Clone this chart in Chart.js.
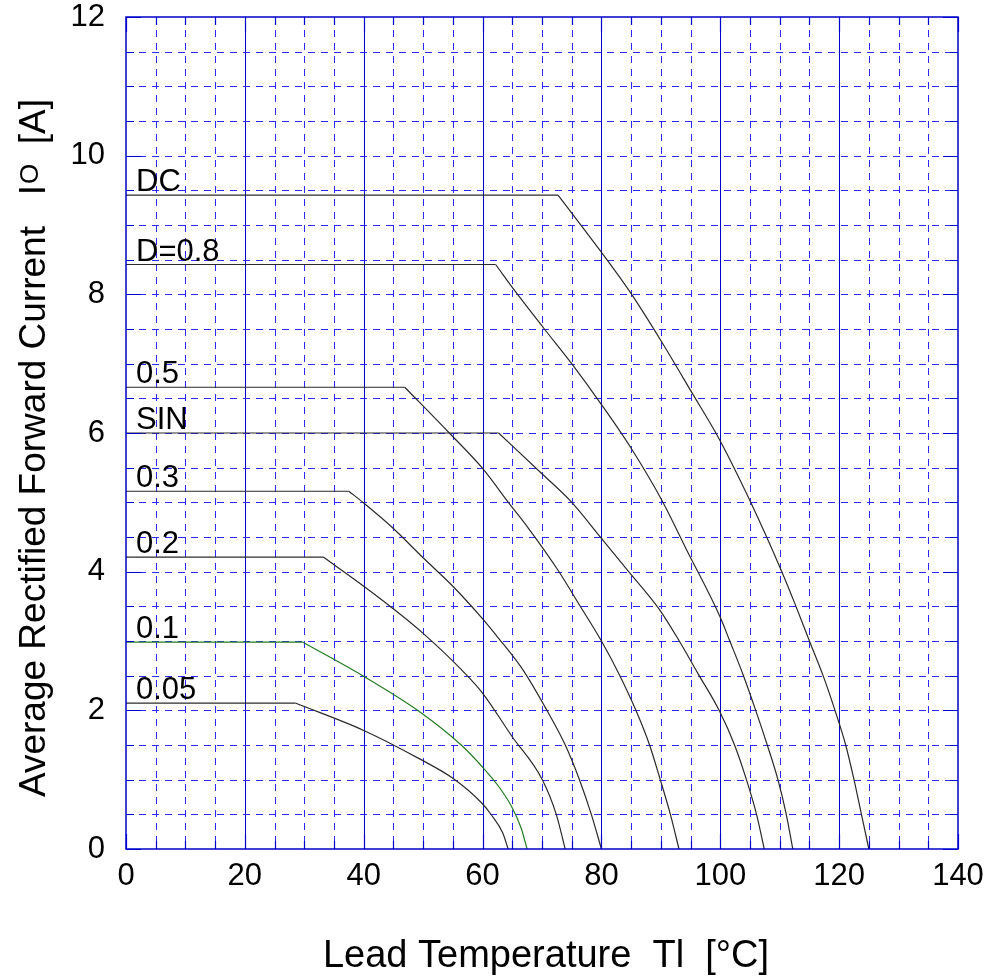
<!DOCTYPE html>
<html>
<head>
<meta charset="utf-8">
<script src="https://cdn.jsdelivr.net/npm/chart.js@4.4.1/dist/chart.umd.min.js"></script>
<style>
  body { margin: 0; background: #fff; }
  #wrap { width: 994px; height: 980px; }
</style>
</head>
<body>
<div id="wrap"><canvas id="myChart" width="994" height="980"></canvas></div>
<script>
// derating curves: [lead temperature °C, average rectified forward current A]
// first two points = flat part, the rest = falling part
var curveNames = ["DC", "D=0.8", "0.5", "SIN", "0.3", "0.2", "0.1", "0.05"];
var curveDC = [[0, 9.43], [72.7, 9.43], [79.7, 8.64], [85, 8.01], [90.1, 7.32], [95.1, 6.6], [99.9, 5.9], [104.9, 5.04], [110.3, 4.01], [112.5, 3.55], [115, 3.0], [117.3, 2.5], [119.3, 2.0], [121.1, 1.5], [122.5, 1.0], [123.75, 0.5], [125, 0]];
var curveD08 = [[0, 8.43], [62.2, 8.43], [65.7, 8.02], [70.4, 7.5], [74.9, 7.01], [80, 6.41], [85, 5.78], [90.1, 5.04], [94.3, 4.32], [99.9, 3.36], [101.6, 3.0], [103.9, 2.5], [105.96, 2.0], [107.9, 1.5], [109.7, 1.0], [111.1, 0.5], [112.2, 0]];
var curveD05 = [[0, 6.66], [46.9, 6.66], [54.4, 6.0], [59.9, 5.5], [64.6, 4.97], [67.6, 4.64], [72.7, 4.02], [76.3, 3.52], [80, 3.0], [83.1, 2.5], [85.8, 2.0], [88.1, 1.5], [89.9, 1.0], [91.6, 0.5], [93.05, 0]];
var curveSIN = [[0, 6.0], [62.7, 6.0], [69.9, 5.42], [74.9, 5.01], [80, 4.48], [84.2, 4.04], [89.8, 3.45], [93.1, 3.0], [96.25, 2.53], [99.8, 2.0], [102.4, 1.5], [104.4, 1.0], [106.1, 0.5], [107.4, 0]];
var curveD03 = [[0, 5.16], [37.5, 5.16], [40, 4.99], [44.9, 4.63], [50, 4.2], [55, 3.79], [59.9, 3.33], [62.6, 3.05], [66.9, 2.57], [70.5, 2.05], [73.8, 1.52], [76.3, 1.0], [78.3, 0.5], [80, 0]];
var curveD02 = [[0, 4.21], [33.2, 4.21], [40, 3.79], [44.9, 3.47], [50, 3.11], [56.4, 2.59], [59.9, 2.26], [64.9, 1.63], [70.05, 1.0], [72.4, 0.5], [73.9, 0]];
var curveD01 = [[0, 2.985], [29.7, 2.985], [40, 2.49], [49.4, 1.98], [56.4, 1.5], [59.9, 1.19], [62.9, 0.88], [64.9, 0.61], [66.5, 0.3], [67.5, 0]];
var curveD005 = [[0, 2.105], [28.5, 2.105], [40, 1.71], [49.4, 1.3], [55, 1.02], [59.9, 0.66], [61.5, 0.49], [63.4, 0.23], [64.3, 0]];
var curveColors = ["#2a2a2a", "#2a2a2a", "#2a2a2a", "#2a2a2a", "#2a2a2a", "#2a2a2a", "#237a23", "#2a2a2a"];
var xTickLabels = [0, 20, 40, 60, 80, 100, 120, 140];
var yTickLabels = [0, 2, 4, 6, 8, 10, 12];

var FONT = "'Liberation Sans', Arial, sans-serif";
var GRID_BLUE = "#0000cc";
var DASH_BLUE = "#2a2aff";

var curves = [curveDC, curveD08, curveD05, curveSIN, curveD03, curveD02, curveD01, curveD005];

function toXY(pts) {
  return pts.map(function (p) { return { x: p[0], y: p[1] }; });
}

// each curve -> flat segment + smooth falling segment (keeps the knee sharp)
var datasets = [];
curves.forEach(function (pts, i) {
  datasets.push({
    label: curveNames[i],
    data: toXY(pts.slice(0, 2)),
    showLine: true,
    borderColor: curveColors[i],
    borderWidth: 1.2,
    pointRadius: 0,
    tension: 0
  });
  datasets.push({
    label: "",
    data: toXY(pts.slice(1)),
    showLine: true,
    borderColor: curveColors[i],
    borderWidth: 1.2,
    pointRadius: 0,
    cubicInterpolationMode: "monotone"
  });
});

var gridPlugin = {
  id: "gridPlugin",
  beforeDatasetsDraw: function (chart) {
    var c = chart.ctx, a = chart.chartArea;
    var xs = chart.scales.x, ys = chart.scales.y;
    c.save();
    c.lineWidth = 1;
    xs.ticks.forEach(function (t) {
      if (t.value <= xs.min || t.value >= xs.max) return;
      var px = Math.round(xs.getPixelForValue(t.value)) + 0.5;
      var major = t.value % 20 === 0;
      c.strokeStyle = major ? GRID_BLUE : DASH_BLUE;
      c.setLineDash(major ? [] : [7, 6]);
      c.beginPath();
      c.moveTo(px, a.top);
      c.lineTo(px, a.bottom);
      c.stroke();
    });
    c.strokeStyle = DASH_BLUE;
    ys.ticks.forEach(function (t) {
      if (t.value <= ys.min || t.value >= ys.max) return;
      var py = Math.round(ys.getPixelForValue(t.value)) + 0.5;
      c.setLineDash([7, 6]);
      c.beginPath();
      c.moveTo(a.left, py);
      c.lineTo(a.right, py);
      c.stroke();
    });
    c.restore();
  },
  afterDatasetsDraw: function (chart) {
    var c = chart.ctx, a = chart.chartArea;
    var xs = chart.scales.x, ys = chart.scales.y;
    c.save();
    c.strokeStyle = GRID_BLUE;
    c.lineWidth = 1.5;
    c.setLineDash([]);
    c.strokeRect(a.left, a.top, a.right - a.left, a.bottom - a.top);
    c.lineWidth = 1.2;
    // inward tick marks
    xs.ticks.forEach(function (t) {
      var px = Math.round(xs.getPixelForValue(t.value)) + 0.5;
      var len = t.value % 20 === 0 ? 15 : 8;
      c.beginPath();
      c.moveTo(px, a.bottom); c.lineTo(px, a.bottom - len);
      c.moveTo(px, a.top); c.lineTo(px, a.top + len);
      c.stroke();
    });
    ys.ticks.forEach(function (t) {
      var py = Math.round(ys.getPixelForValue(t.value)) + 0.5;
      var len = t.value % 2 === 0 ? 15 : 8;
      c.beginPath();
      c.moveTo(a.left, py); c.lineTo(a.left + len, py);
      c.moveTo(a.right, py); c.lineTo(a.right - len, py);
      c.stroke();
    });
    // curve names on the flat part of each curve
    c.fillStyle = "#000";
    c.font = "31px " + FONT;
    c.textAlign = "left";
    c.textBaseline = "alphabetic";
    chart.data.datasets.forEach(function (ds) {
      if (!ds.label) return;
      var p = ds.data[0];
      c.fillText(ds.label, xs.getPixelForValue(p.x) + 10, ys.getPixelForValue(p.y) - 4);
    });
    c.restore();
  },
  afterDraw: function (chart) {
    var c = chart.ctx, a = chart.chartArea;
    c.save();
    c.fillStyle = "#000";
    c.textBaseline = "alphabetic";
    // x title
    c.font = "38px " + FONT;
    c.textAlign = "center";
    c.fillText("Lead Temperature  Tl  [°C]", (a.left + a.right) / 2 + 4, 967);
    // y title, small O after I
    var partA = "Average Rectified Forward Current   I";
    var partB = "O";
    var partC = "  [A]";
    c.font = "37px " + FONT;
    var wA = c.measureText(partA).width;
    var wC = c.measureText(partC).width;
    c.font = "26px " + FONT;
    var wB = c.measureText(partB).width;
    var total = wA + wB + wC;
    c.translate(45, (a.top + a.bottom) / 2 + 15);
    c.rotate(-Math.PI / 2);
    c.textAlign = "left";
    var x0 = -total / 2;
    c.font = "37px " + FONT;
    c.fillText(partA, x0, 0);
    c.font = "26px " + FONT;
    c.fillText(partB, x0 + wA + 1, -7);
    c.font = "37px " + FONT;
    c.fillText(partC, x0 + wA + wB, 0);
    c.restore();
  }
};

var ctx = document.getElementById("myChart");
var chart = new Chart(ctx, {
  type: "scatter",
  data: { datasets: datasets },
  options: {
    responsive: false,
    animation: false,
    devicePixelRatio: 1,
    layout: { padding: { top: 17, right: 36, left: 0, bottom: 0 } },
    plugins: {
      legend: { display: false },
      tooltip: { enabled: false }
    },
    scales: {
      x: {
        type: "linear",
        min: 0,
        max: 140,
        grid: { display: false },
        border: { display: false },
        ticks: {
          stepSize: 5,
          autoSkip: false,
          maxRotation: 0,
          padding: 4,
          color: "#000",
          font: { family: FONT, size: 31, lineHeight: 1 },
          callback: function (v) { return xTickLabels.indexOf(v) >= 0 ? String(v) : ""; }
        },
        afterFit: function (s) { s.height = 131; }
      },
      y: {
        type: "linear",
        min: 0,
        max: 12,
        grid: { display: false },
        border: { display: false },
        ticks: {
          stepSize: 0.5,
          autoSkip: false,
          padding: 13,
          color: "#000",
          font: { family: FONT, size: 31, lineHeight: 1 },
          callback: function (v) { return yTickLabels.indexOf(v) >= 0 ? String(v) : ""; }
        },
        afterFit: function (s) {
          s.width = 126;
          s.paddingTop = 0;
          s.paddingBottom = 0;
        }
      }
    }
  },
  plugins: [gridPlugin]
});
</script>
</body>
</html>
